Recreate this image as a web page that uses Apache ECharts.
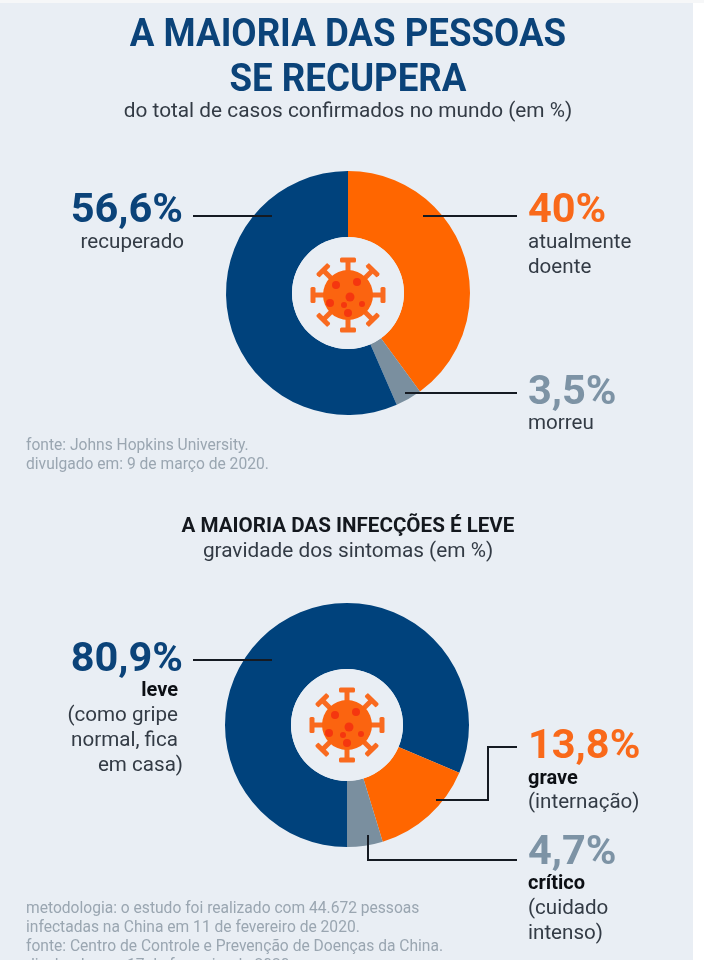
<!DOCTYPE html>
<html><head><meta charset="utf-8">
<style>html,body{margin:0;padding:0;background:#fff}#c{width:704px;height:960px}</style>
<script src="https://cdn.jsdelivr.net/npm/echarts@6/dist/echarts.min.js"></script>
</head><body><div id="c"></div>
<script>
const outcomeLabels = ['atualmente doente','morreu','recuperado'];
const outcomeValues = [40,3.5,56.6];
const outcomeColors = ['#ff6600','#7a8f9f','#00427c'];
const severityLabels = ['leve','grave','crítico'];
const severityValues = [80.9,13.8,4.7];
const severityColors = ['#00427c','#ff6600','#7a8f9f'];
const NAVY='#0b4379',ORANGE='#f9691a',GRAY='#7d93a5',BODY='#333b45',INK='#0c0f14',NOTE='#9aa6b1',LINE='#151a22';
const F='Roboto';
function t(text,x,y,size,color,weight,align,scaleX){
  return {type:'text',silent:true,z:30,x,y,scaleX:scaleX||1,style:{text,x:0,y:0,fontFamily:F,fontSize:size,fontWeight:weight||400,fill:color,align:align||'left',verticalAlign:'middle'}};
}
function pl(points){
  return {type:'polyline',silent:true,shape:{points},style:{stroke:LINE,lineWidth:2,fill:null},z:30};
}
function virus(cx,cy){
  const kids=[];
  for(let i=0;i<8;i++){
    const rot=i*Math.PI/4;
    kids.push({type:'rect',z:22,rotation:rot,originX:0,originY:0,shape:{x:-2.5,y:-35,width:5,height:12},style:{fill:'#f96a1f'}});
    kids.push({type:'rect',z:22,rotation:rot,originX:0,originY:0,shape:{x:-8,y:-37.5,width:16,height:5,r:1.5},style:{fill:'#f96a1f'}});
  }
  kids.push({type:'circle',z:23,shape:{cx:0,cy:0,r:25},style:{fill:'#fb6410'}});
  [[-12,-10,4],[9,-13,4],[2,2,4.5],[-18,8,4],[-4,10,3],[14,9,3],[0,18,4]].forEach(s=>{
    kids.push({type:'circle',z:24,shape:{cx:s[0],cy:s[1],r:s[2]},style:{fill:'#f5360f'}});
  });
  return {type:'group',x:cx,y:cy,silent:true,children:kids};
}
function pie(center,labels,values,colors,start){
  return {type:'pie',center,radius:[56,122],startAngle:start,clockwise:true,silent:true,
    label:{show:false},labelLine:{show:false},animation:false,
    itemStyle:{borderWidth:0},
    data:values.map((v,i)=>({name:labels[i],value:v,itemStyle:{color:colors[i]}}))};
}
const chart=echarts.init(document.getElementById('c'),null,{renderer:'canvas'});
chart.setOption({
  animation:false,
  backgroundColor:'#e9eef4',
  series:[
    pie([348,293],outcomeLabels,outcomeValues,outcomeColors,90),
    pie([347,725],severityLabels,severityValues,severityColors,270)
  ],
  graphic:{elements:[
    {type:'rect',silent:true,z:40,shape:{x:693,y:0,width:11,height:960},style:{fill:'#ffffff'}},
    {type:'rect',silent:true,z:40,shape:{x:0,y:0,width:704,height:3},style:{fill:'#f6f7f8'}},
    {type:'circle',silent:true,z:20,shape:{cx:348,cy:293,r:56},style:{fill:'#e9eef4'}},
    {type:'circle',silent:true,z:20,shape:{cx:347,cy:725,r:56},style:{fill:'#e9eef4'}},
    virus(348,295),virus(347,725),
    t('A MAIORIA DAS PESSOAS',348,36,39,NAVY,700,'center',0.94),
    t('SE RECUPERA',348,81,39,NAVY,700,'center',0.94),
    t('do total de casos confirmados no mundo (em %)',348,112,20.8,BODY,400,'center'),
    t('56,6%',183,212,41.5,NAVY,700,'right'),
    t('recuperado',184,243,20.6,BODY,400,'right'),
    t('40%',528,212,41.5,ORANGE,700),
    t('atualmente',528,243,20.6,BODY),
    t('doente',528,268,20.6,BODY),
    t('3,5%',528,394,41.5,GRAY,700),
    t('morreu',528,424,20.6,BODY),
    t('fonte: Johns Hopkins University.',26,446,15.6,NOTE),
    t('divulgado em: 9 de março de 2020.',26,465,15.6,NOTE),
    t('A MAIORIA DAS INFECÇÕES É LEVE',348,527,20.6,'#14181e',700,'center'),
    t('gravidade dos sintomas (em %)',348,552,20.8,BODY,400,'center'),
    t('80,9%',183,661,41.5,NAVY,700,'right'),
    t('leve',178,691,20,INK,700,'right'),
    t('(como gripe',178,716,20.6,BODY,400,'right'),
    t('normal, fica',178,741,20.6,BODY,400,'right'),
    t('em casa)',183,766,20.6,BODY,400,'right'),
    t('13,8%',528,748,41.5,ORANGE,700),
    t('grave',528,779,20,INK,700),
    t('(internação)',528,803,20.6,BODY),
    t('4,7%',528,854,41.5,GRAY,700),
    t('crítico',528,884,20,INK,700),
    t('(cuidado',528,909,20.6,BODY),
    t('intenso)',528,934,20.6,BODY),
    t('metodologia: o estudo foi realizado com 44.672 pessoas',26,909,15.6,NOTE),
    t('infectadas na China em 11 de fevereiro de 2020.',26,928,15.6,NOTE),
    t('fonte: Centro de Controle e Prevenção de Doenças da China.',26,947,15.6,NOTE),
    t('divulgado em: 17 de fevereiro de 2020.',26,966,15.6,NOTE),
    pl([[193,216],[272,216]]),
    pl([[423,216],[517,216]]),
    pl([[405,393],[517,393]]),
    pl([[193,660],[272,660]]),
    pl([[517,747],[488,747],[488,800],[436,800]]),
    pl([[368,835],[368,860],[517,860]])
  ]}
});
</script></body></html>
